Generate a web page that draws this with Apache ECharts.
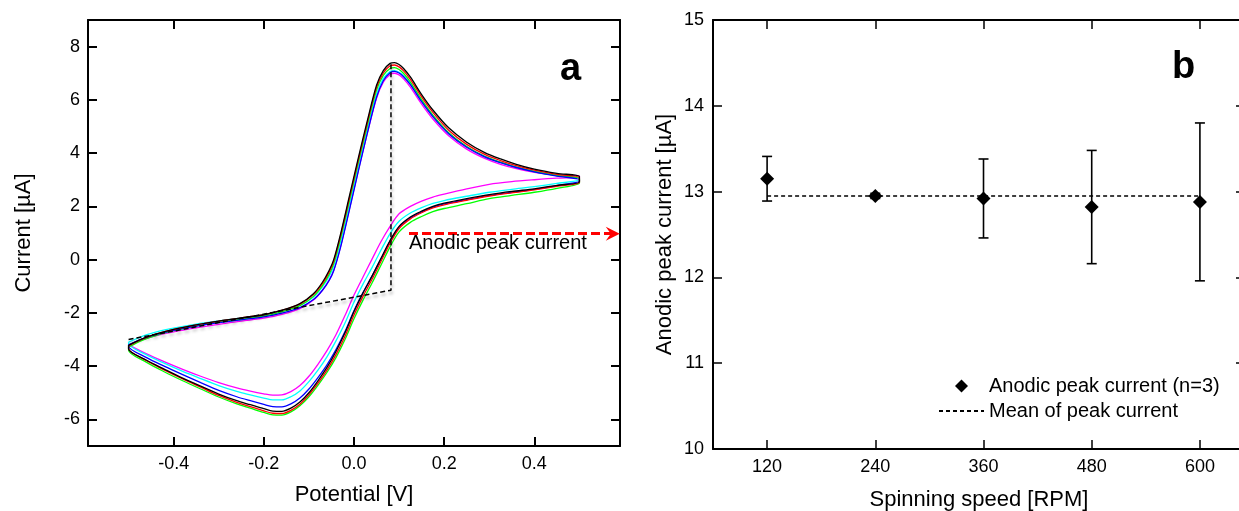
<!DOCTYPE html>
<html><head><meta charset="utf-8">
<script src="https://cdn.jsdelivr.net/npm/echarts@6/dist/echarts.min.js"></script>
<style>html,body{margin:0;padding:0;background:#fff}#c{width:1239px;height:511px}</style>
</head><body><div id="c"></div>
<script>
// ---------- Panel a: cyclic voltammograms ----------
const vFwd = [-0.50,-0.47,-0.44,-0.40,-0.35,-0.30,-0.25,-0.20,-0.16,-0.12,-0.09,-0.07,-0.055,-0.045,-0.03,-0.01,0.01,0.03,0.05,0.065,0.08,0.09,0.10,0.11,0.125,0.15,0.175,0.21,0.25,0.29,0.325,0.36,0.40,0.45,0.50];
const vRev = [0.50,0.45,0.40,0.35,0.30,0.25,0.20,0.175,0.15,0.125,0.10,0.08,0.06,0.04,0.02,0.00,-0.02,-0.04,-0.06,-0.08,-0.10,-0.12,-0.14,-0.16,-0.18,-0.20,-0.23,-0.26,-0.30,-0.34,-0.38,-0.42,-0.46,-0.50];

const blackFwd = [-3.22,-2.98,-2.80,-2.62,-2.45,-2.31,-2.19,-2.07,-1.90,-1.65,-1.28,-0.85,-0.40,0.00,0.95,2.40,3.85,5.25,6.55,7.10,7.37,7.40,7.33,7.18,6.86,6.20,5.62,4.95,4.41,4.02,3.78,3.58,3.40,3.24,3.12];
const blackRev = [2.92,2.79,2.66,2.56,2.44,2.29,2.12,2.00,1.82,1.60,1.25,0.72,0.05,-0.62,-1.25,-1.95,-2.75,-3.45,-4.05,-4.55,-5.00,-5.35,-5.58,-5.70,-5.69,-5.60,-5.45,-5.30,-5.05,-4.75,-4.45,-4.12,-3.78,-3.36];
const redFwd = [-3.24,-2.99,-2.80,-2.62,-2.45,-2.31,-2.19,-2.07,-1.91,-1.67,-1.31,-0.90,-0.46,-0.06,0.88,2.32,3.77,5.17,6.47,7.01,7.28,7.31,7.24,7.09,6.77,6.11,5.53,4.86,4.33,3.95,3.72,3.53,3.36,3.20,3.08];
const redRev = [2.90,2.75,2.62,2.51,2.39,2.23,2.06,1.94,1.76,1.53,1.17,0.62,-0.06,-0.74,-1.38,-2.08,-2.88,-3.57,-4.15,-4.64,-5.08,-5.43,-5.66,-5.78,-5.77,-5.68,-5.52,-5.36,-5.10,-4.79,-4.48,-4.15,-3.80,-3.34];
const greenFwd = [-3.28,-3.03,-2.85,-2.67,-2.50,-2.36,-2.24,-2.12,-1.96,-1.73,-1.38,-0.98,-0.55,-0.15,0.78,2.22,3.67,5.07,6.37,6.92,7.18,7.21,7.14,6.99,6.67,6.01,5.43,4.77,4.25,3.88,3.66,3.47,3.31,3.16,3.04];
const greenRev = [2.88,2.68,2.53,2.41,2.29,2.10,1.92,1.80,1.62,1.40,1.04,0.48,-0.20,-0.88,-1.52,-2.22,-3.00,-3.68,-4.24,-4.72,-5.15,-5.49,-5.72,-5.84,-5.83,-5.74,-5.58,-5.42,-5.16,-4.86,-4.55,-4.22,-3.86,-3.40];
const blueFwd = [-3.20,-2.98,-2.82,-2.66,-2.50,-2.37,-2.26,-2.15,-2.01,-1.80,-1.50,-1.15,-0.78,-0.42,0.45,1.88,3.35,4.78,6.10,6.72,7.02,7.07,7.01,6.87,6.57,5.93,5.37,4.73,4.22,3.86,3.64,3.46,3.30,3.14,3.00];
const blueRev = [2.95,2.78,2.64,2.53,2.41,2.25,2.09,1.97,1.79,1.57,1.22,0.70,0.04,-0.62,-1.24,-1.92,-2.70,-3.38,-3.95,-4.43,-4.86,-5.20,-5.42,-5.53,-5.52,-5.44,-5.30,-5.15,-4.91,-4.62,-4.32,-4.01,-3.68,-3.25];
const cyanFwd = [-3.10,-2.88,-2.72,-2.57,-2.42,-2.30,-2.19,-2.08,-1.94,-1.72,-1.40,-1.02,-0.62,-0.25,0.65,2.08,3.55,4.95,6.22,6.80,7.06,7.10,7.04,6.90,6.60,5.95,5.38,4.74,4.23,3.87,3.65,3.47,3.31,3.16,3.05];
const cyanRev = [3.00,2.86,2.74,2.64,2.53,2.38,2.22,2.11,1.95,1.75,1.44,0.98,0.36,-0.30,-0.92,-1.60,-2.38,-3.05,-3.65,-4.15,-4.58,-4.93,-5.15,-5.27,-5.27,-5.20,-5.08,-4.95,-4.73,-4.47,-4.20,-3.90,-3.58,-3.15];
const magentaFwd = [-3.20,-3.00,-2.86,-2.71,-2.56,-2.43,-2.31,-2.20,-2.06,-1.84,-1.52,-1.15,-0.76,-0.40,0.48,1.92,3.38,4.78,6.06,6.66,6.95,7.00,6.94,6.79,6.48,5.84,5.28,4.65,4.15,3.80,3.58,3.42,3.28,3.18,3.15];
const magentaRev = [3.10,3.06,3.00,2.93,2.83,2.66,2.46,2.35,2.20,2.00,1.72,1.25,0.68,0.02,-0.65,-1.33,-2.10,-2.82,-3.42,-3.93,-4.38,-4.73,-4.96,-5.08,-5.09,-5.04,-4.94,-4.82,-4.62,-4.38,-4.12,-3.84,-3.54,-3.20];

const baseX = [-0.50, 0.082, 0.082];
const baseY = [-3.00, -1.15, 7.35];
const potTicks = [-0.4, -0.2, 0.0, 0.2, 0.4];
const curTicks = [-6, -4, -2, 0, 2, 4, 6, 8];

// ---------- Panel b: anodic peak current vs spinning speed ----------
const rpm = [120, 240, 360, 480, 600];
const peak = [13.15, 12.95, 12.92, 12.82, 12.88];
const peakErr = [0.26, 0.03, 0.46, 0.66, 0.92];
const meanPeak = 12.95;
const rpmTicks = [120, 240, 360, 480, 600];

const FF = '"Liberation Sans", Arial, Helvetica, sans-serif';
const DIAMOND = 'path://M5,0 L10,5 L5,10 L0,5 Z';

const curves = [
  ['#ff00ff', magentaFwd, magentaRev],
  ['#00ffff', cyanFwd, cyanRev],
  ['#00ff00', greenFwd, greenRev],
  ['#0000ff', blueFwd, blueRev],
  ['#ff0000', redFwd, redRev],
  ['#000000', blackFwd, blackRev]
];

function loop(fwd, rev) {
  const d = vFwd.map((v, i) => [v, fwd[i]]).concat(vRev.map((v, i) => [v, rev[i]]));
  d.push([vFwd[0], fwd[0]]);
  return d;
}

const cvSeries = curves.map(([c, f, r]) => ({
  type: 'line', xAxisIndex: 0, yAxisIndex: 0,
  data: loop(f, r), showSymbol: false, symbol: 'none', smooth: 0.3,
  lineStyle: { color: c, width: 1.3 }, itemStyle: { color: c },
  silent: true, z: 3
}));

function axisCommon(extra) {
  return Object.assign({
    type: 'value',
    axisLine: { show: true, onZero: false, lineStyle: { color: '#000', width: 2 } },
    axisTick: { show: true, inside: true, length: 9, lineStyle: { color: '#000', width: 2 } },
    axisLabel: { fontSize: 18, color: '#000', fontFamily: FF },
    splitLine: { show: false },
    nameTextStyle: { fontSize: 22, color: '#000', fontFamily: FF }
  }, extra);
}

const option = {
  animation: false,
  backgroundColor: '#fff',
  textStyle: { fontFamily: FF, color: '#000' },
  grid: [
    { left: 88, top: 20, width: 532, height: 426, outerBoundsMode: 'none', containLabel: false },
    { left: 713, top: 20, width: 532, height: 429, outerBoundsMode: 'none', containLabel: false }
  ],
  xAxis: [
    axisCommon({ gridIndex: 0, min: -0.59, max: 0.59, position: 'bottom',
      axisTick: { show: true, inside: true, length: 9, customValues: potTicks, lineStyle: { color: '#000', width: 2 } },
      axisLabel: { customValues: potTicks, formatter: v => v.toFixed(1), fontSize: 18, color: '#000', margin: 9 },
      name: 'Potential [V]', nameLocation: 'middle', nameGap: 38 }),
    axisCommon({ gridIndex: 0, min: -0.59, max: 0.59, position: 'top',
      axisTick: { show: true, inside: true, length: 9, customValues: potTicks, lineStyle: { color: '#000', width: 2 } },
      axisLabel: { show: false } }),
    axisCommon({ gridIndex: 1, min: 60, max: 650, position: 'bottom',
      axisTick: { show: true, inside: true, length: 9, customValues: rpmTicks, lineStyle: { color: '#000', width: 1.5 } },
      axisLabel: { customValues: rpmTicks, fontSize: 18, color: '#000', margin: 9 },
      name: 'Spinning speed [RPM]', nameLocation: 'middle', nameGap: 40 }),
    axisCommon({ gridIndex: 1, min: 60, max: 650, position: 'top',
      axisTick: { show: true, inside: true, length: 9, customValues: rpmTicks, lineStyle: { color: '#000', width: 1.5 } },
      axisLabel: { show: false } })
  ],
  yAxis: [
    axisCommon({ gridIndex: 0, min: -7, max: 9, position: 'left',
      axisTick: { show: true, inside: true, length: 9, customValues: curTicks, lineStyle: { color: '#000', width: 2 } },
      axisLabel: { customValues: curTicks, fontSize: 18, color: '#000', margin: 8 },
      name: 'Current [µA]', nameLocation: 'middle', nameGap: 53 }),
    axisCommon({ gridIndex: 0, min: -7, max: 9, position: 'right',
      axisTick: { show: true, inside: true, length: 9, customValues: curTicks, lineStyle: { color: '#000', width: 2 } },
      axisLabel: { show: false } }),
    axisCommon({ gridIndex: 1, min: 10, max: 15, interval: 1, position: 'left',
      axisTick: { show: true, inside: true, length: 9, lineStyle: { color: '#000', width: 1.5 } },
      axisLabel: { fontSize: 18, color: '#000', margin: 9 },
      name: 'Anodic peak current [µA]', nameLocation: 'middle', nameGap: 37 }),
    axisCommon({ gridIndex: 1, min: 10, max: 15, interval: 1, position: 'right',
      axisTick: { show: true, inside: true, length: 9, lineStyle: { color: '#000', width: 1.5 } },
      axisLabel: { show: false } })
  ],
  legend: {
    data: [
      { name: 'Anodic peak current (n=3)', icon: DIAMOND, itemStyle: { color: '#000', opacity: 1 } },
      { name: 'Mean of peak current', itemStyle: { color: 'rgba(0,0,0,0)', opacity: 0, borderWidth: 0 } }
    ],
    orient: 'vertical', left: 933, top: 371,
    itemWidth: 45, itemHeight: 13, itemGap: 5,
    symbolKeepAspect: true,
    selectedMode: false,
    textStyle: { fontSize: 20, color: '#000', fontFamily: FF }
  },
  graphic: [
    { type: 'text', left: 560, top: 51, style: { text: 'a', font: 'bold 38px ' + FF, fill: '#000' } },
    { type: 'text', left: 1172, top: 49, style: { text: 'b', font: 'bold 38px ' + FF, fill: '#000' } }
  ],
  series: cvSeries.concat([
    {
      type: 'line', xAxisIndex: 0, yAxisIndex: 0,
      data: baseX.map((x, i) => [x, baseY[i]]),
      showSymbol: false, symbol: 'none', silent: true, z: 4,
      lineStyle: { color: '#000', width: 1.5, type: [5, 3],
        shadowColor: 'rgba(0,0,0,0.3)', shadowBlur: 3, shadowOffsetX: 1, shadowOffsetY: 3 },
      markLine: {
        silent: true,
        symbol: ['none', 'path://M7,0 L14,14 L7,9 L0,14 Z'],
        symbolSize: [14, 14],
        label: { show: false },
        lineStyle: { color: '#ff0000', width: 3, type: [9, 4] },
        data: [[{ coord: [0.122, 0.975] }, { coord: [0.574, 0.975] }]]
      },
      markPoint: {
        silent: true,
        symbol: 'circle', symbolSize: 0,
        data: [{ coord: [0.122, 0.61] }],
        label: { show: true, position: 'right', distance: 0, formatter: 'Anodic peak current',
          fontSize: 20, color: '#000', fontFamily: FF }
      }
    },
    {
      name: 'Mean of peak current',
      type: 'line', xAxisIndex: 2, yAxisIndex: 2,
      data: [[rpm[0], meanPeak], [rpm[rpm.length - 1], meanPeak]],
      showSymbol: false, symbol: 'none', silent: true, z: 2,
      lineStyle: { color: '#000', width: 1.5, type: [4, 3] },
      itemStyle: { color: '#000' }
    },
    {
      type: 'custom', xAxisIndex: 2, yAxisIndex: 2, silent: true, z: 3,
      data: rpm.map((r, i) => [r, peak[i] - peakErr[i], peak[i] + peakErr[i]]),
      encode: { x: 0, y: [1, 2] },
      renderItem: function (params, api) {
        const x = api.value(0);
        const lo = api.coord([x, api.value(1)]);
        const hi = api.coord([x, api.value(2)]);
        const hw = 5;
        const st = { stroke: '#000', lineWidth: 1.6 };
        return { type: 'group', children: [
          { type: 'line', shape: { x1: lo[0], y1: lo[1], x2: hi[0], y2: hi[1] }, style: st },
          { type: 'line', shape: { x1: lo[0] - hw, y1: lo[1], x2: lo[0] + hw, y2: lo[1] }, style: st },
          { type: 'line', shape: { x1: hi[0] - hw, y1: hi[1], x2: hi[0] + hw, y2: hi[1] }, style: st }
        ] };
      }
    },
    {
      name: 'Anodic peak current (n=3)',
      type: 'scatter', xAxisIndex: 2, yAxisIndex: 2, z: 5,
      data: rpm.map((r, i) => [r, peak[i]]),
      symbol: DIAMOND, symbolKeepAspect: true, symbolSize: 14, silent: true,
      itemStyle: { color: '#000', opacity: 1 }
    }
  ])
};

const chart = echarts.init(document.getElementById('c'), null, { renderer: 'canvas' });
chart.setOption(option);
</script>
</body></html>
